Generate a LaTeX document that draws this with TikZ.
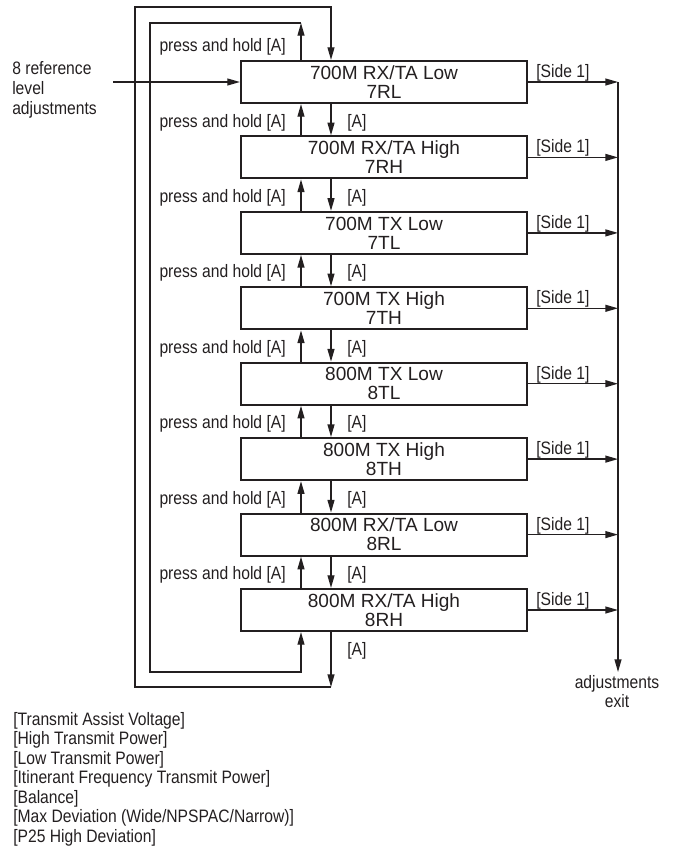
\documentclass[tikz,border=0pt]{standalone}
\usepackage{fontspec}
\setmainfont{Liberation Sans}
\newfontfamily\condfont[FakeStretch=0.87]{Liberation Sans}
\usetikzlibrary{arrows.meta,calc}
\definecolor{ink}{HTML}{231F20}
\begin{document}
\begin{tikzpicture}[x=0.75pt,y=-0.75pt,
  every node/.style={text=ink},
  box/.style={draw=ink, line width=1.6pt, minimum width=214.5pt, minimum height=31.5pt, inner sep=0pt, align=center, font=\fontsize{14.3}{14.3}\selectfont},
  conn/.style={draw=ink, line width=1pt, -{Triangle[length=9.5pt,width=5.2pt]}},
  lbl/.style={inner sep=0pt, font=\condfont\fontsize{13.5}{14.6}\selectfont}]
\useasboundingbox (0,0) rectangle (675,853);

\node[box] (b1) at (384,82) {700M RX/TA Low\\7RL};
\node[box] (b2) at (384,157.4) {700M RX/TA High\\7RH};
\node[box] (b3) at (384,232.9) {700M TX Low\\7TL};
\node[box] (b4) at (384,308.3) {700M TX High\\7TH};
\node[box] (b5) at (384,383.7) {800M TX Low\\8TL};
\node[box] (b6) at (384,459.1) {800M TX High\\8TH};
\node[box] (b7) at (384,534.6) {800M RX/TA Low\\8RL};
\node[box] (b8) at (384,610) {800M RX/TA High\\8RH};

\coordinate (ux) at (301,0);
\coordinate (dx) at (331,0);
\coordinate (rx) at (618,0);
\coordinate (lx) at (286,0);
\coordinate (ax) at (347,0);

% between boxes
\foreach \a/\b in {b1/b2,b2/b3,b3/b4,b4/b5,b5/b6,b6/b7,b7/b8} {
  \draw[conn] (\b.north -| ux) -- (\a.south -| ux);
  \draw[conn] (\a.south -| dx) -- (\b.north -| dx);
  \node[lbl, anchor=base east] at ($(\a.south -| lx)+(0,23)$) {press and hold [A]};
  \node[lbl, anchor=base west] at ($(\a.south -| ax)+(0,23)$) {[A]};
}
\node[lbl, anchor=base east] (toplbl) at ($(b1.north -| lx)+(0,-8)$) {press and hold [A]};
\node[lbl, anchor=base west] (botlbl) at ($(b8.south -| ax)+(0,23)$) {[A]};

% outer loop
\coordinate (o1) at (331,687);
\coordinate (o2) at (135,687);
\coordinate (o3) at (135,7);
\coordinate (o4) at (331,7);
\draw[conn] (b8.south -| o1) -- (o1);
\draw[conn] (o1) -- (o2) -- (o3) -- (o4) -- (b1.north -| o4);

% inner loop
\coordinate (i1) at (301,23);
\coordinate (i2) at (150,23);
\coordinate (i3) at (150,672);
\coordinate (i4) at (301,672);
\draw[conn] (b1.north -| i1) -- (i1);
\draw[conn] (i1) -- (i2) -- (i3) -- (i4) -- (b8.south -| i4);

% entry
\node[lbl, anchor=north west, align=left, font=\condfont\fontsize{13.5}{15}\selectfont] (entry) at (12,61) {8 reference\\level\\adjustments};
\coordinate (ein) at (113,82);
\draw[conn] (ein) -- (b1.west);

% exits
\foreach \n in {b1,b2,b3,b4,b5,b6,b7,b8} {
  \draw[conn] (\n.east) -- (\n.east -| rx);
  \node[lbl, anchor=base west] at ($(\n.east)+(8,-4.5)$) {[Side 1]};
}
\coordinate (exend) at (618,672);
\draw[conn] (b1.east -| rx) -- (exend);
\node[lbl, align=center, anchor=north, font=\condfont\fontsize{13.5}{14.3}\selectfont] (exitlbl) at (617,675) {adjustments\\exit};

% list
\node[lbl, anchor=north west, align=left, font=\condfont\fontsize{13.5}{14.6}\selectfont] (list) at (13,712) {[Transmit Assist Voltage]\\{}[High Transmit Power]\\{}[Low Transmit Power]\\{}[Itinerant Frequency Transmit Power]\\{}[Balance]\\{}[Max Deviation (Wide/NPSPAC/Narrow)]\\{}[P25 High Deviation]};
\end{tikzpicture}
\end{document}
